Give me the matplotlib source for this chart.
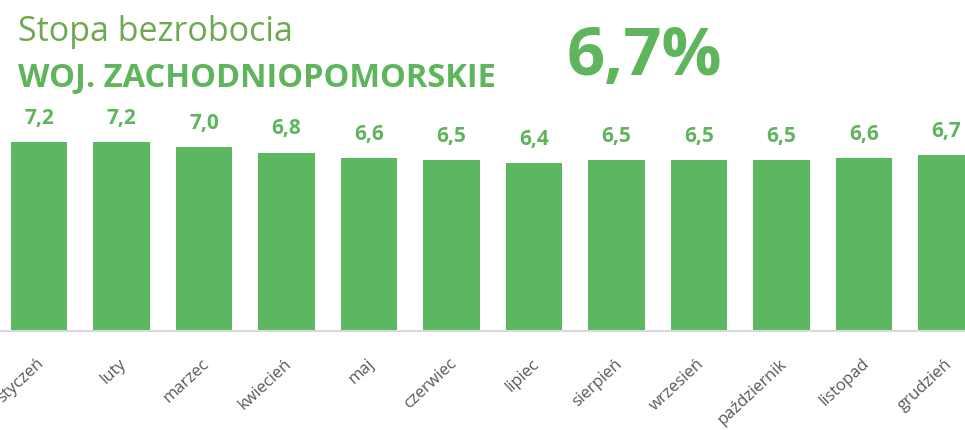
import matplotlib
matplotlib.use("Agg")
import matplotlib.pyplot as plt
import matplotlib.transforms as mtransforms

plt.rcParams['font.family'] = ['Open Sans', 'DejaVu Sans']

# Dane: stopa bezrobocia, woj. zachodniopomorskie
miesiace = ["styczeń", "luty", "marzec", "kwiecień", "maj", "czerwiec",
            "lipiec", "sierpień", "wrzesień", "październik", "listopad", "grudzień"]
stopa = [7.2, 7.2, 7.0, 6.8, 6.6, 6.5, 6.4, 6.5, 6.5, 6.5, 6.6, 6.7]
stopa_roczna = "6,7%"

GREEN = '#5cb860'
TXT_GREEN = '#5eb55c'
TITLE_GREEN = '#70a850'
GRAY = '#595959'

W, H = 965, 430
fig = plt.figure(figsize=(W / 100, H / 100), dpi=100)

# osie w pikselach: linia bazowa y=331, 26.25 px na 1 pp
base_px = 331
px_per_unit = 26.25
ymax = 8
ax = fig.add_axes([0, 1 - base_px / H, 1, ymax * px_per_unit / H])

x = list(range(len(stopa)))
ax.bar(x, stopa, width=0.68, color=GREEN, zorder=2)
step = 82.5
first_center = 39
ax.set_xlim(-first_center / step, (W - first_center) / step)
ax.set_ylim(0, ymax)

for xi, v in zip(x, stopa):
    ax.annotate(f"{v:.1f}".replace('.', ','), (xi, v), xytext=(0, 13),
                textcoords='offset points', ha='center', va='baseline',
                fontsize=15, fontweight='bold', color=TXT_GREEN)

for s in ['top', 'right', 'left']:
    ax.spines[s].set_visible(False)
ax.spines['bottom'].set_color('#d9d9d9')
ax.spines['bottom'].set_linewidth(1.5)
ax.set_yticks([])
ax.set_xticks(x)
ax.set_xticklabels(miesiace, rotation=43, ha='right', va='center',
                   rotation_mode='anchor', fontsize=12, color=GRAY)
ax.tick_params(axis='x', length=0, pad=22)
offset = mtransforms.ScaledTranslation(3 / 100, 0, fig.dpi_scale_trans)
for lab in ax.get_xticklabels():
    lab.set_transform(lab.get_transform() + offset)

fig.text(18 / W, 1 - 41 / H, "Stopa bezrobocia", fontsize=24.5,
         color=TITLE_GREEN, va='baseline', ha='left')
fig.text(18 / W, 1 - 86 / H, "WOJ. ZACHODNIOPOMORSKIE", fontsize=23.5,
         fontweight='bold', color=TXT_GREEN, va='baseline', ha='left')
fig.text(567 / W, 1 - 75 / H, stopa_roczna, fontsize=48,
         fontweight='bold', color=TXT_GREEN, va='baseline', ha='left')

fig.savefig("out.png", dpi=100, facecolor='white')
